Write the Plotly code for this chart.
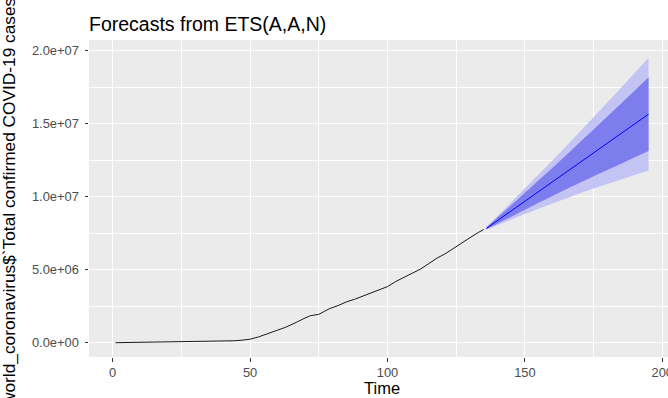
import plotly.graph_objects as go

# Observed series (time index, total confirmed cases in millions)
hist_t = [1, 5, 10, 12, 13, 20, 30, 40, 44, 47, 50, 53, 56, 58, 60, 63, 65, 67, 70,
          72, 74, 75, 77, 79, 82, 85, 88, 91, 94, 97, 100, 103, 106, 109, 112, 115,
          118, 121, 124, 127, 130, 133, 135]
hist_cases = [0.01, 0.02, 0.04, 0.045, 0.06, 0.075, 0.085, 0.11, 0.14, 0.18, 0.25,
              0.40, 0.58, 0.72, 0.87, 1.07, 1.22, 1.42, 1.70, 1.86, 1.92, 1.95, 2.15,
              2.35, 2.55, 2.80, 2.98, 3.20, 3.42, 3.62, 3.85, 4.20, 4.48, 4.75, 5.05,
              5.42, 5.80, 6.10, 6.48, 6.85, 7.20, 7.55, 7.76]

# ETS(A,A,N) point forecast and prediction intervals (millions)
fc_t = [136, 140, 145, 150, 155, 160, 165, 170, 175, 180, 185, 190, 195]
fc_mean = [7.84, 8.37, 9.03, 9.70, 10.36, 11.02, 11.68, 12.35, 13.01, 13.67, 14.33, 15.00, 15.66]
fc_lo80 = [7.78, 8.16, 8.64, 9.12, 9.59, 10.06, 10.51, 10.97, 11.41, 11.84, 12.27, 12.71, 13.13]
fc_hi80 = [7.90, 8.58, 9.42, 10.28, 11.13, 11.98, 12.85, 13.73, 14.61, 15.50, 16.39, 17.29, 18.19]
fc_lo95 = [7.75, 8.05, 8.44, 8.82, 9.19, 9.55, 9.89, 10.24, 10.57, 10.88, 11.19, 11.50, 11.80]
fc_hi95 = [7.93, 8.69, 9.62, 10.58, 11.53, 12.49, 13.47, 14.46, 15.45, 16.46, 17.47, 18.50, 19.52]

UNIT = 1e6

x_ticks = [0, 50, 100, 150, 200]
y_ticks = [0, 5e6, 1e7, 1.5e7, 2e7]
y_tick_text = ["0.0e+00", "5.0e+06", "1.0e+07", "1.5e+07", "2.0e+07"]

title_text = "Forecasts from ETS(A,A,N)"
x_title = "Time"
y_title = "world_coronavirus$`Total confirmed COVID-19 cases`"

FONT = "Liberation Sans, Arial, sans-serif"


def scaled(vals):
    return [v * UNIT for v in vals]


def band(lo, hi):
    xs = fc_t + fc_t[::-1]
    ys = scaled(hi) + scaled(lo)[::-1]
    return xs, ys


fig = go.Figure()

bx, by = band(fc_lo95, fc_hi95)
fig.add_trace(go.Scatter(x=bx, y=by, fill="toself", mode="none",
                         fillcolor="#C4C4F4", hoverinfo="skip", showlegend=False))
bx, by = band(fc_lo80, fc_hi80)
fig.add_trace(go.Scatter(x=bx, y=by, fill="toself", mode="none",
                         fillcolor="#7D7DEE", hoverinfo="skip", showlegend=False))
fig.add_trace(go.Scatter(x=fc_t, y=scaled(fc_mean), mode="lines",
                         line=dict(color="#0000FF", width=1), showlegend=False))
fig.add_trace(go.Scatter(x=hist_t, y=scaled(hist_cases), mode="lines",
                         line=dict(color="#1A1A1A", width=1), showlegend=False))

W, H = 668, 398
ML, MR, MT, MB = 89, 0, 40, 41

fig.update_layout(
    template="none",
    width=W, height=H,
    margin=dict(l=ML, r=MR, t=MT, b=MB, pad=0),
    paper_bgcolor="white",
    plot_bgcolor="#EBEBEB",
    font=dict(family=FONT, color="#000000"),
    showlegend=False,
    title=dict(text=title_text, x=0, xref="paper", xanchor="left",
               y=1 - 24 / H, yref="container", yanchor="middle",
               font=dict(size=19.5, color="#000000", family=FONT)),
    xaxis=dict(
        range=[-8.62, 202.08],
        tickmode="array", tickvals=x_ticks, ticktext=[str(v) for v in x_ticks],
        showgrid=True, gridcolor="white", gridwidth=1.3,
        minor=dict(dtick=25, tick0=0, showgrid=True, gridcolor="white",
                   gridwidth=0.7, ticklen=0),
        zeroline=False, showline=False,
        ticks="outside", ticklen=3.5, tickwidth=1, tickcolor="#333333",
        tickfont=dict(size=12.9, color="#4D4D4D", family=FONT),
        ticklabeloverflow="allow",
        automargin=False,
    ),
    yaxis=dict(
        range=[-0.97e6, 2.074e7],
        tickmode="array", tickvals=y_ticks, ticktext=y_tick_text,
        showgrid=True, gridcolor="white", gridwidth=1.3,
        minor=dict(dtick=2.5e6, tick0=0, showgrid=True, gridcolor="white",
                   gridwidth=0.7, ticklen=0),
        zeroline=False, showline=False,
        ticks="outside", ticklen=3.5, tickwidth=1, tickcolor="#333333",
        tickfont=dict(size=12.9, color="#4D4D4D", family=FONT),
        ticklabelstandoff=3,
        automargin=False,
    ),
)

plot_w = W - ML - MR
plot_h = H - MT - MB

# Axis titles placed in pixel terms relative to the plotting area
fig.add_annotation(text=x_title, xref="paper", yref="paper",
                   x=(381.5 - ML) / plot_w, y=-(388 - (H - MB)) / plot_h,
                   xanchor="center", yanchor="middle", showarrow=False,
                   font=dict(size=16.5, color="#000000", family=FONT))
fig.add_annotation(text=y_title, xref="paper", yref="paper",
                   x=(9 - ML) / plot_w, y=(H - MB - 199) / plot_h,
                   xanchor="center", yanchor="middle", textangle=-90,
                   showarrow=False,
                   font=dict(size=17.3, color="#000000", family=FONT))

fig.write_html("out.html")
